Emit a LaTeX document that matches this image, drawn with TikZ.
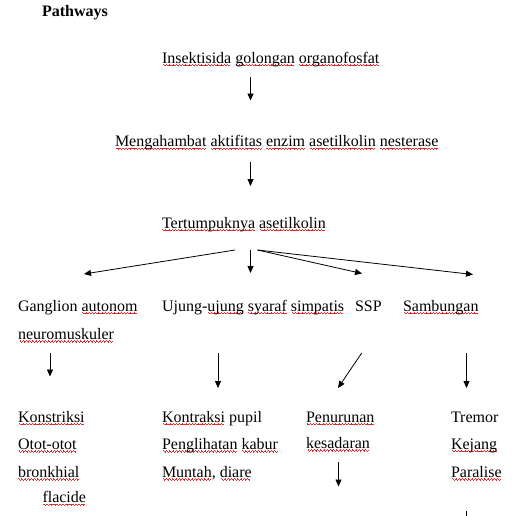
\documentclass[tikz,border=0pt]{standalone}
\usepackage{fontspec}
\setmainfont{Liberation Serif}
\usetikzlibrary{arrows.meta}
\definecolor{spell}{RGB}{230,40,40}
\newcommand\wavepiece{\rule[-1.6pt]{0.8pt}{0.7pt}\rule[-2.3pt]{0.8pt}{0.7pt}\rule[-3.0pt]{0.8pt}{0.7pt}\rule[-2.3pt]{0.8pt}{0.7pt}}
\newcommand\sq[1]{\leavevmode\setbox0\hbox{#1}\rlap{\hbox to\wd0{\color{spell}\cleaders\hbox{\wavepiece}\hfil}}\box0\relax}
\tikzset{
  lbl/.style={anchor=base west,inner sep=0pt,outer sep=0pt,font=\fontsize{16}{19}\selectfont},
  ttl/.style={lbl,font=\bfseries\fontsize{16}{19}\selectfont},
  arr/.style={-{Triangle[length=7pt,width=6pt]},line width=0.8pt},
  plain/.style={line width=0.8pt}
}
\begin{document}
\begin{tikzpicture}[x=1pt,y=-1pt]
\useasboundingbox[fill=white] (0,0) rectangle (527,515);
% texts
\node[ttl] (title) at (42,16.5) {Pathways};
\node[lbl] (ins) at (162,63) {\sq{Insektisida} \sq{golongan} \sq{organofosfat}};
\node[lbl] (men) at (115,146.7) {\sq{Mengahambat} \sq{aktifitas} \sq{enzim} \sq{asetilkolin} \sq{nesterase}};
\node[lbl] (ter) at (162,228) {\sq{Tertumpuknya} \sq{asetilkolin}};
\node[lbl] (gan) at (18,311) {Ganglion \sq{autonom}};
\node[lbl] (neu) at (18,339.5) {\sq{neuromuskuler}};
\node[lbl] (uju) at (162,311) {Ujung-\sq{ujung} \sq{syaraf} \sq{simpatis}};
\node[lbl] (ssp) at (355,311) {SSP};
\node[lbl] (sam) at (403,311) {\sq{Sambungan}};
\node[lbl] (kon1) at (18,422) {\sq{Konstriksi}};
\node[lbl] (kon2) at (18,449.5) {\sq{Otot-otot}};
\node[lbl] (kon3) at (18,477.3) {\sq{bronkhial}};
\node[lbl] (kon4) at (42.5,502.7) {\sq{flacide}};
\node[lbl] (pup1) at (162,422) {\sq{Kontraksi} pupil};
\node[lbl] (pup2) at (162,449.5) {\sq{Penglihatan} \sq{kabur}};
\node[lbl] (pup3) at (162,477.3) {\sq{Muntah}, \sq{diare}};
\node[lbl] (pen1) at (306,422) {\sq{Penurunan}};
\node[lbl] (pen2) at (306,448.5) {\sq{kesadaran}};
\node[lbl] (tre1) at (451,422) {Tremor};
\node[lbl] (tre2) at (451,449) {\sq{Kejang}};
\node[lbl] (tre3) at (451,477.3) {\sq{Paralise}};
% connector ends
\coordinate (a1s) at (250.5,77);   \coordinate (a1e) at (250.5,100.5);
\coordinate (a2s) at (250.5,162);  \coordinate (a2e) at (250.5,186);
\coordinate (fl) at (235,250);     \coordinate (flE) at (84,274);
\coordinate (fm) at (250.5,250);   \coordinate (fmE) at (250.5,273);
\coordinate (fr) at (257.5,250);   \coordinate (fr1E) at (362,273.5); \coordinate (fr2E) at (473,274.5);
\coordinate (b1s) at (50,353);     \coordinate (b1e) at (50,376.5);
\coordinate (b2s) at (218,353);    \coordinate (b2e) at (218,388);
\coordinate (b3s) at (361.7,353);  \coordinate (b3e) at (338,388);
\coordinate (b4s) at (466.5,353);  \coordinate (b4e) at (466.5,388);
\coordinate (c1s) at (338.5,462);  \coordinate (c1e) at (338.5,486.5);
\coordinate (c2s) at (466,511);    \coordinate (c2e) at (466,516);
% connectors
\draw[arr] (a1s) -- (a1e);
\draw[arr] (a2s) -- (a2e);
\draw[arr] (fl) -- (flE);
\draw[arr] (fm) -- (fmE);
\draw[arr] (fr) -- (fr1E);
\draw[arr] (fr) -- (fr2E);
\draw[arr] (b1s) -- (b1e);
\draw[arr] (b2s) -- (b2e);
\draw[arr] (b3s) -- (b3e);
\draw[arr] (b4s) -- (b4e);
\draw[arr] (c1s) -- (c1e);
\draw[plain] (c2s) -- (c2e);
\end{tikzpicture}
\end{document}
